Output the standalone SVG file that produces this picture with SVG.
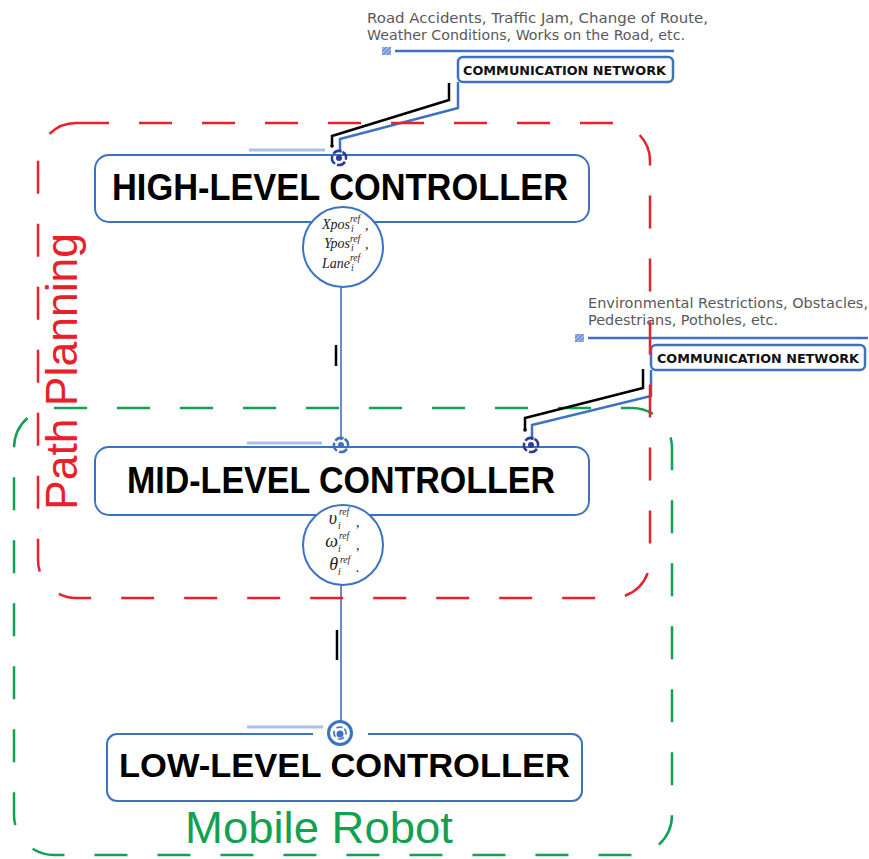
<svg xmlns="http://www.w3.org/2000/svg" width="869" height="859" viewBox="0 0 869 859">
  <style>
    .box { fill: #ffffff; stroke: #3d72c2; stroke-width: 2; }
    .title { font-family: "Liberation Sans", Arial, sans-serif; font-weight: bold; fill: #000; }
    .net { fill: #ffffff; stroke: #3d72c2; stroke-width: 2.5; }
    .netlabel { font-family: "DejaVu Sans", Verdana, sans-serif; font-weight: bold; font-size: 12px; fill: #111; }
    .note { font-family: "DejaVu Sans", Verdana, sans-serif; font-size: 13.5px; fill: #595959; }
    .feed { stroke: #3d72c2; stroke-width: 2.5; fill: none; }
    .wire { stroke: #3d72c2; stroke-width: 1.6; fill: none; }
    .blk { stroke: #000; stroke-width: 2.5; fill: none; }
    .tap { stroke: #a9c1e8; stroke-width: 3; }
    .bubble { fill: #ffffff; stroke: #3d72c2; stroke-width: 2; }
    .m { font-family: "Liberation Serif", "Times New Roman", serif; font-style: italic; fill: #222; }
    .mm { font-size: 14px; }
    .mg { font-size: 18px; }
    .sc { font-size: 9.5px; }
    .region { fill: none; stroke-width: 2.5; stroke-dasharray: 33 30; }
    .zone { font-family: "Liberation Sans", Arial, sans-serif; font-size: 45px; }
  </style>
  <defs>
    <pattern id="hatch" width="3" height="3" patternUnits="userSpaceOnUse" patternTransform="rotate(45)">
      <rect width="3" height="3" fill="#9db8e6"/>
      <line x1="0" y1="0" x2="0" y2="3" stroke="#3d72c2" stroke-width="1.5"/>
    </pattern>
    <!-- small port marker: broken ring with a centre dot -->
    <g id="port">
      <circle r="7" fill="none" stroke="currentColor" stroke-width="2.5" stroke-dasharray="9 2.2" transform="rotate(-60)"/>
      <circle r="3" fill="currentColor"/>
    </g>
    <!-- larger port marker used on the low level -->
    <g id="portBig">
      <circle r="11.5" fill="#fff" stroke="currentColor" stroke-width="3"/>
      <circle r="6" fill="none" stroke="currentColor" stroke-width="1.6" stroke-dasharray="6 3.5" transform="rotate(-45)"/>
      <circle cy="1" r="3.5" fill="currentColor"/>
    </g>
  </defs>

  <!-- regions -->
  <g id="mobile-robot">
    <rect class="region" x="14" y="408" width="658" height="447" rx="40" stroke="#12a150"/>
    <text class="zone" x="185" y="843" fill="#12a150" textLength="268" lengthAdjust="spacingAndGlyphs">Mobile Robot</text>
  </g>

  <!-- external information: upper network -->
  <g id="network-high">
    <text class="note" x="367" y="23" textLength="341" lengthAdjust="spacingAndGlyphs">Road Accidents, Traffic Jam, Change of Route,</text>
    <text class="note" x="367" y="40" textLength="318" lengthAdjust="spacingAndGlyphs">Weather Conditions, Works on the Road, etc.</text>
    <rect x="382" y="47" width="9" height="8" fill="url(#hatch)"/>
    <line class="feed" x1="395" y1="51" x2="674" y2="51"/>
    <rect class="net" x="458" y="57" width="215" height="25" rx="5"/>
    <text class="netlabel" x="463" y="75" textLength="203" lengthAdjust="spacingAndGlyphs">COMMUNICATION NETWORK</text>
  </g>

  <!-- external information: lower network -->
  <g id="network-mid">
    <text class="note" x="588" y="308" textLength="280" lengthAdjust="spacingAndGlyphs">Environmental Restrictions, Obstacles,</text>
    <text class="note" x="588" y="325" textLength="190" lengthAdjust="spacingAndGlyphs">Pedestrians, Potholes, etc.</text>
    <rect x="575" y="334" width="9" height="8" fill="url(#hatch)"/>
    <line class="feed" x1="588" y1="338" x2="868" y2="338"/>
    <rect class="net" x="651" y="345" width="214" height="25" rx="5"/>
    <text class="netlabel" x="657" y="363" textLength="202" lengthAdjust="spacingAndGlyphs">COMMUNICATION NETWORK</text>
  </g>

  <!-- connectors -->
  <g id="connectors">
    <polyline class="blk" points="332,146 332,136 449,100 449,83"/>
    <circle cx="332" cy="146" r="1.8" fill="#000"/>
    <polyline class="feed" points="340,152 340,139 458,108 458,82"/>
    <polyline class="blk" points="525,430 525,418 643,388 643,369"/>
    <circle cx="525" cy="430" r="1.8" fill="#000"/>
    <polyline class="feed" points="532,440 532,425 651,396 651,370"/>
    <line class="wire" x1="341" y1="287" x2="341" y2="440"/>
    <line class="wire" x1="341" y1="585" x2="341" y2="722"/>
    <line class="blk" x1="336" y1="345" x2="336" y2="366"/>
    <line class="blk" x1="337" y1="630" x2="337" y2="660"/>
  </g>

  <!-- high level -->
  <g id="high-level">
    <rect class="box" x="95" y="155" width="494" height="67" rx="14"/>
    <line class="tap" x1="249" y1="150" x2="325" y2="150"/>
    <use href="#port" x="339" y="158" color="#2e3a9c"/>
    <text class="title" x="112" y="200" font-size="36" textLength="456" lengthAdjust="spacingAndGlyphs">HIGH-LEVEL CONTROLLER</text>
    <circle class="bubble" cx="343" cy="247" r="40"/>
    <text class="m mm" x="350" y="229" text-anchor="end">Xpos</text>
    <text class="m sc" x="350" y="222">ref</text>
    <text class="m sc" x="351" y="232">i</text>
    <text class="m mm" x="365" y="230">,</text>
    <text class="m mm" x="350" y="248" text-anchor="end">Ypos</text>
    <text class="m sc" x="350" y="242">ref</text>
    <text class="m sc" x="351" y="251">i</text>
    <text class="m mm" x="365" y="249">,</text>
    <text class="m mm" x="350" y="268" text-anchor="end">Lane</text>
    <text class="m sc" x="350" y="261">ref</text>
    <text class="m sc" x="351" y="271">i</text>
  </g>

  <!-- mid level -->
  <g id="mid-level">
    <rect class="box" x="95" y="447" width="494" height="68" rx="14"/>
    <line class="tap" x1="247" y1="443" x2="322" y2="443"/>
    <use href="#port" x="341" y="445" color="#3d72c2"/>
    <use href="#port" x="531" y="445" color="#2e3a9c"/>
    <text class="title" x="127" y="493" font-size="36" textLength="428" lengthAdjust="spacingAndGlyphs">MID-LEVEL CONTROLLER</text>
    <circle class="bubble" cx="343" cy="545" r="40"/>
    <text class="m mg" x="337" y="524" text-anchor="end">υ</text>
    <text class="m sc" x="339" y="515">ref</text>
    <text class="m sc" x="338" y="529">i</text>
    <text class="m mm" x="356" y="527">,</text>
    <text class="m mg" x="338" y="547" text-anchor="end">ω</text>
    <text class="m sc" x="339" y="539">ref</text>
    <text class="m sc" x="338" y="552">i</text>
    <text class="m mm" x="356" y="550">,</text>
    <text class="m mg" x="338" y="570" text-anchor="end">θ</text>
    <text class="m sc" x="340" y="563">ref</text>
    <text class="m sc" x="338" y="575">i</text>
    <text class="m mm" x="356" y="572">.</text>
  </g>

  <!-- low level -->
  <g id="low-level">
    <rect class="box" x="107" y="734" width="475" height="67" rx="10"/>
    <line x1="313" y1="734" x2="368" y2="734" stroke="#fff" stroke-width="4"/>
    <line class="tap" x1="247" y1="727" x2="323" y2="727"/>
    <use href="#portBig" x="340" y="733" color="#3d72c2"/>
    <text class="title" x="119" y="777" font-size="34" textLength="451" lengthAdjust="spacingAndGlyphs">LOW-LEVEL CONTROLLER</text>
  </g>

  <!-- path planning region drawn over the rest -->
  <g id="path-planning">
    <rect class="region" x="38" y="123" width="612" height="475" rx="38" stroke="#e8202a"/>
    <text class="zone" transform="translate(77,510) rotate(-90)" fill="#e8202a" textLength="277" lengthAdjust="spacingAndGlyphs">Path Planning</text>
  </g>
</svg>
